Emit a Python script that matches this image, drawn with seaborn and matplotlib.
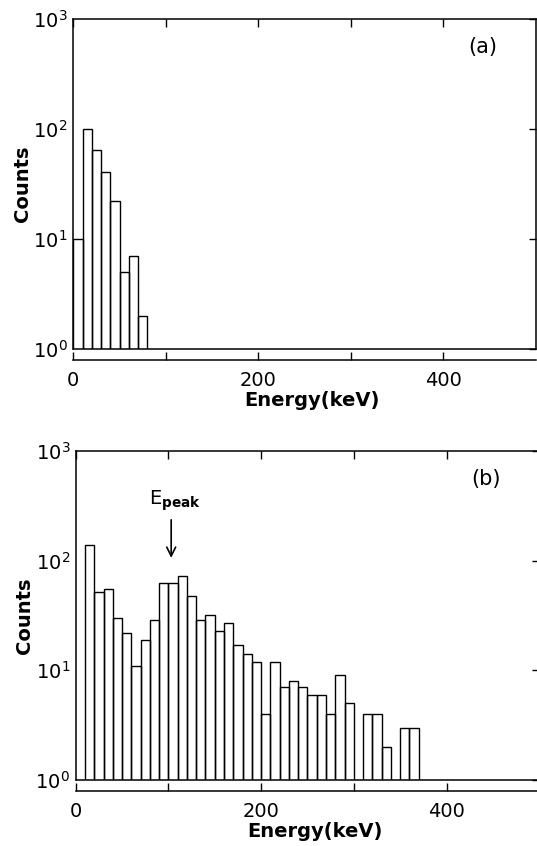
import numpy as np
import pandas as pd
import matplotlib
matplotlib.use("Agg")
import matplotlib.pyplot as plt
import seaborn as sns
from matplotlib.ticker import FixedLocator, NullLocator, FixedFormatter

# ---------------- data ----------------
bin_width = 10
# panel (a): lower edges of energy bins (keV) and counts
a_bin_lo = [0, 10, 20, 30, 40, 50, 60, 70]
a_counts = [10, 100, 65, 41, 22, 5, 7, 2]

# panel (b)
b_bin_lo = [10, 20, 30, 40, 50, 60, 70, 80, 90, 100, 110, 120, 130, 140, 150,
            160, 170, 180, 190, 200, 210, 220, 230, 240, 250, 260, 270, 280,
            290, 300, 310, 320, 330, 340, 350, 360]
b_counts = [139, 52, 55, 30, 22, 11, 19, 29, 62, 62, 72, 48, 29, 32, 23,
            27, 17, 14, 12, 4, 12, 7, 8, 7, 6, 6, 4, 9,
            5, 0, 4, 4, 2, 0, 3, 3]

x_ticks = [0, 100, 200, 300, 400]
x_tick_labels = ["0", "", "200", "", "400"]
y_ticks = [1, 10, 100, 1000]
panel_labels = ["(a)", "(b)"]
peak_energy = 103  # keV, arrow position in panel (b)

# ---------------- style ----------------
sns.set_theme(style="ticks")
plt.rcParams["font.family"] = ["DejaVu Sans"]
plt.rcParams["axes.edgecolor"] = "black"
plt.rcParams["axes.labelcolor"] = "black"
plt.rcParams["axes.linewidth"] = 1.1
plt.rcParams["text.color"] = "black"
plt.rcParams["xtick.color"] = "black"
plt.rcParams["ytick.color"] = "black"

W, H = 537, 846
fig = plt.figure(figsize=(W / 100, H / 100), dpi=100)
fig.patch.set_facecolor("white")

ax_a = fig.add_axes([73.3 / W, 1 - 349 / H, 462.7 / W, 330 / H])
ax_b = fig.add_axes([75.7 / W, 1 - 780 / H, 463.5 / W, 329 / H])


def draw_panel(ax, lo, counts, label):
    lo = np.asarray(lo, dtype=float)
    df = pd.DataFrame({"energy": lo + bin_width / 2, "counts": counts})
    edges = list(lo) + [lo[-1] + bin_width]
    sns.histplot(data=df, x="energy", weights="counts", bins=edges, ax=ax,
                 fill=False, element="bars", color="black", linewidth=1.0)
    ax.set_yscale("log")
    ax.set_xlim(0, 500)
    ax.set_ylim(1, 1000)
    ax.axhline(1, color="black", lw=1.1, clip_on=False, zorder=5)

    # separate x-axis line slightly below the frame
    ax.spines["bottom"].set_position(("outward", 8))
    ax.xaxis.set_major_locator(FixedLocator(x_ticks))
    ax.xaxis.set_major_formatter(FixedFormatter(x_tick_labels))
    ax.xaxis.set_minor_locator(NullLocator())
    ax.tick_params(axis="x", which="major", direction="in", length=6,
                   width=1.0, top=True, bottom=True, labelsize=14, pad=8)

    ax.yaxis.set_major_locator(FixedLocator(y_ticks))
    ax.yaxis.set_minor_locator(NullLocator())
    ax.tick_params(axis="y", which="major", direction="in", length=5,
                   width=1.0, left=False, right=True, labelleft=True,
                   labelsize=14, pad=4)

    ax.set_xlabel("Energy(keV)", fontsize=14, fontweight="bold")
    ax.set_ylabel("Counts", fontsize=14, fontweight="bold")
    ax.xaxis.set_label_coords(0.516, -0.128)
    ax.yaxis.set_label_coords(-0.09, 0.5)
    ax.text(0.885, 0.915, label, transform=ax.transAxes, fontsize=15,
            ha="center", va="center")
    ax.set_facecolor("white")


draw_panel(ax_a, a_bin_lo, a_counts, panel_labels[0])
draw_panel(ax_b, b_bin_lo, b_counts, panel_labels[1])

# E_peak arrow in panel (b)
ax_b.annotate("", xy=(peak_energy, 100), xytext=(peak_energy, 250),
              arrowprops=dict(arrowstyle="->", lw=1.2, color="black",
                              mutation_scale=16))
ax_b.text(peak_energy + 4, 270, r"E$_{\mathbf{peak}}$", fontsize=14,
          ha="center", va="bottom")

fig.savefig("out.png", dpi=100, facecolor="white")
